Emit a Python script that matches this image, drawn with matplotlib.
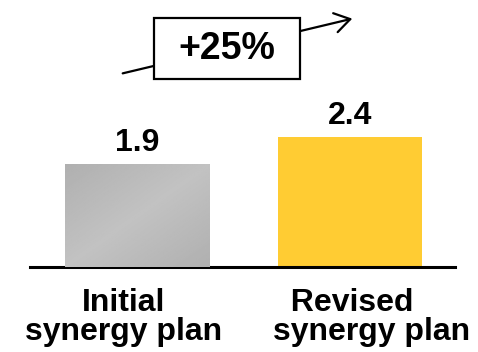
import numpy as np
import matplotlib
matplotlib.use('Agg')
import matplotlib.pyplot as plt
from matplotlib.patches import Rectangle, FancyArrowPatch

plt.rcParams['font.family'] = ['Liberation Sans', 'DejaVu Sans']
plt.rcParams['font.weight'] = 'bold'

# Data
categories = ['Initial\nsynergy plan', '  Revised\nsynergy plan']
values = [1.9, 2.4]
colors = ['#BCBCBC', '#FFCC33']
change_label = '+25%'

W, H = 478, 352
fig = plt.figure(figsize=(W / 100, H / 100), dpi=100)


def fpx(x, y):
    # pixel position (from top-left) -> figure fraction
    return x / W, 1 - y / H


ax = fig.add_axes([30 / W, (H - 267) / H, (455 - 30) / W, 267 / H])
x = np.arange(len(categories))
bars = ax.bar(x, values, width=0.676, color=colors, zorder=2)

# subtle diagonal gradient on the grey bar
b = bars[0]
gx, gy = np.meshgrid(np.linspace(0, 1, 100), np.linspace(0, 1, 100))
shade = 0.76 - 0.07 * np.abs(gx - gy)
img = ax.imshow(shade, cmap='gray', vmin=0, vmax=1, origin='lower', aspect='auto',
                extent=[b.get_x(), b.get_x() + b.get_width(), 0, b.get_height()], zorder=3)
img.set_clip_path(b)
ax.set_xlim(-0.502, 1.493)
ax.set_ylim(0, 267 / 54.2)

for xi, v in zip(x, values):
    ax.annotate(f'{v:.1f}', (xi, v), xytext=(0, 4), textcoords='offset points',
                ha='center', va='bottom', fontsize=23, fontweight='bold')

for s in ['top', 'right', 'left']:
    ax.spines[s].set_visible(False)
ax.spines['bottom'].set_linewidth(2.2)
ax.set_yticks([])
ax.set_xticks([])

# category labels (they sit slightly off the bar centres)
label_pos = [(124, 'center'), (273, 'left')]
for cat, (lx, align) in zip(categories, label_pos):
    tx, ty = fpx(lx, 288)
    fig.text(tx, ty, cat, ha=align, va='top', multialignment=align,
             fontsize=23, fontweight='bold', linespacing=0.94)

# growth arrow with box
fig.add_artist(FancyArrowPatch(
    fpx(120, 74), fpx(355, 18), transform=fig.transFigure,
    arrowstyle='->,head_length=11,head_width=7', lw=1.6, color='black',
    mutation_scale=1))
x0, y0 = fpx(154, 79)
x1, y1 = fpx(300, 18)
fig.add_artist(Rectangle((x0, y0), x1 - x0, y1 - y0, transform=fig.transFigure,
                         facecolor='white', edgecolor='black', lw=1.6, zorder=5))
tx, ty = fpx(227, 49)
fig.text(tx, ty, change_label, ha='center', va='center', fontsize=27,
         fontweight='bold', zorder=6)

fig.savefig('out.png', dpi=100)
